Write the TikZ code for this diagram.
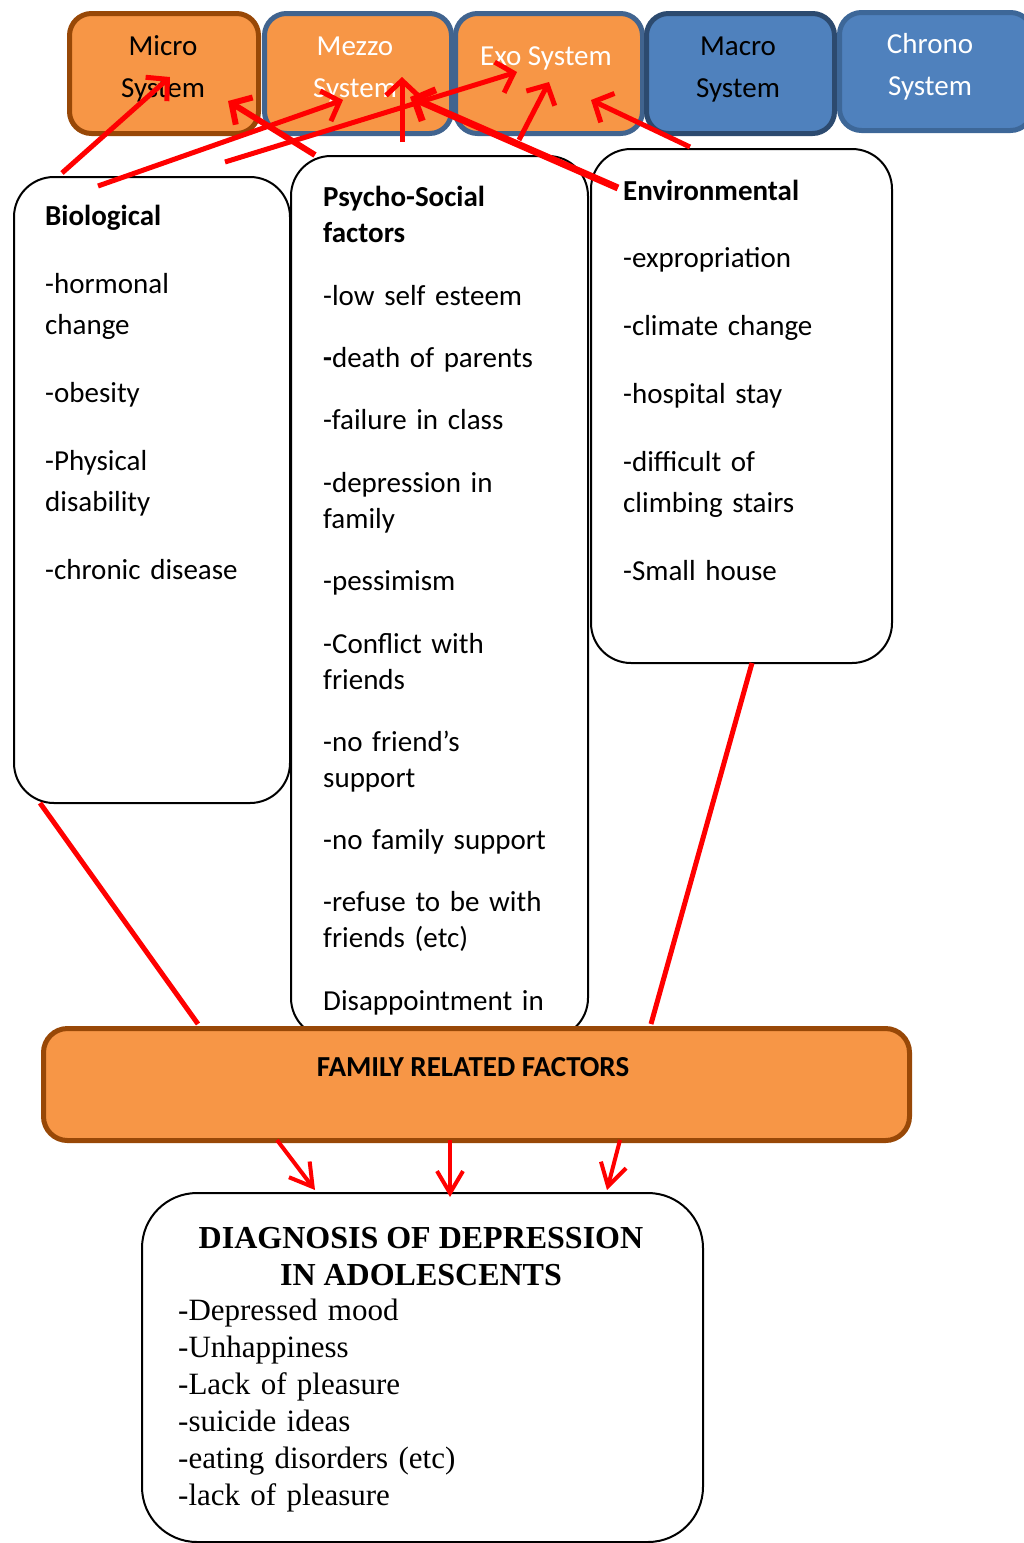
\documentclass[tikz,border=0pt]{standalone}
\usepackage{fontspec}
\setmainfont{Carlito}
\newfontfamily\tnr{Liberation Serif}
\usetikzlibrary{arrows.meta}
\definecolor{orangeF}{HTML}{F79646}
\definecolor{brownB}{HTML}{984807}
\definecolor{blueF}{HTML}{4F81BD}
\definecolor{blueB}{HTML}{41648F}
\definecolor{blueBD}{HTML}{2C4A6F}
\definecolor{blueBL}{HTML}{3D6798}
\definecolor{redL}{HTML}{FF0000}
\begin{document}
\begin{tikzpicture}[x=1pt,y=-1pt,
  sysbox/.style={draw, line width=5pt, rounded corners=22pt, anchor=north west, inner sep=0pt},
  txtbox/.style={draw=black, line width=2pt, fill=white, rounded corners=40pt, anchor=north west, inner sep=0pt},
  systext/.style={anchor=base, inner sep=0pt, align=center, font=\fontsize{29}{42}\selectfont},
  bodyA/.style={anchor=base west, inner sep=0pt, align=left, text width=#1, font=\fontsize{29}{41}\selectfont},
  bodyB/.style={anchor=base west, inner sep=0pt, align=left, text width=#1, font=\fontsize{29}{36}\selectfont},
  redarr/.style={draw=redL, line width=5pt, -{Straight Barb[length=15pt,width=32pt]}},
  redarrT/.style={draw=redL, line width=7pt, -{Straight Barb[length=16pt,width=34pt]}},
  redline/.style={draw=redL, line width=5pt},
  redarrB/.style={draw=redL, line width=4pt, -{Straight Barb[length=22pt,width=26pt]}}
]
\useasboundingbox (0,0) rectangle (1024,1543);
\clip (0,0) rectangle (1024,1543);

% text boxes
\node[txtbox, minimum width=276pt, minimum height=626pt] (bio) at (13,176) {};
\node[txtbox, minimum width=297pt, minimum height=882pt] (psy) at (290,155) {};
\node[txtbox, minimum width=301pt, minimum height=514pt] (env) at (590,148) {};

\node[bodyA=235pt] (bioT) at (45,225) {\textbf{Biological}\\[27pt]
-hormonal\\ change\\[27pt] -obesity\\[27pt] -Physical\\ disability\\[27pt] -chronic disease};

\node[bodyB=258pt] (psyT) at (323,206) {\textbf{Psycho-Social}\\ \textbf{factors}\\[27pt]
-low self esteem\\[26pt] \textbf{-}death of parents\\[26pt] -failure in class\\[27pt]
-depression in\\ family\\[26pt] -pessimism\\[27pt] -Conflict with\\ friends\\[26pt]
-no friend’s\\ support\\[26pt] -no family support\\[26pt] -refuse to be with\\ friends (etc)\\[27pt]
Disappointment in};

\node[bodyA=260pt] (envT) at (623,200) {\textbf{Environmental}\\[26pt]
-expropriation\\[27pt] -climate change\\[27pt] -hospital stay\\[27pt] -difficult of\\ climbing stairs\\[27pt] -Small house};

% family box
\node[draw=brownB, fill=orangeF, line width=5pt, rounded corners=24pt, anchor=north west, inner sep=0pt,
      minimum width=866pt, minimum height=112pt] (fam) at (41,1026) {};
\node[anchor=base, inner sep=0pt, font=\bfseries\fontsize{29}{34}\selectfont] (famT) at (473,1076) {FAMILY RELATED FACTORS};

% diagnosis box
\node[draw=black, line width=2pt, fill=white, rounded corners=55pt, anchor=north west, inner sep=0pt,
      minimum width=561pt, minimum height=349pt] (dia) at (141,1192) {};
\node[anchor=base, inner sep=0pt, align=center, font=\tnr\bfseries\fontsize{32}{37}\selectfont] (diaH) at (421,1285)
  {DIAGNOSIS OF DEPRESSION\\ IN ADOLESCENTS};
\node[anchor=base west, inner sep=0pt, align=left, text width=400pt, font=\tnr\fontsize{31}{37}\selectfont] (diaT) at (178,1320)
  {-Depressed mood\\ -Unhappiness\\ -Lack of pleasure\\ -suicide ideas\\ -eating disorders (etc)\\ -lack of pleasure};

% system boxes
\node[sysbox, draw=brownB, fill=orangeF, minimum width=189pt, minimum height=120pt] (micro) at (67,11) {};
\node[sysbox, draw=blueB, fill=orangeF, minimum width=187pt, minimum height=120pt] (mezzo) at (262,11) {};
\node[sysbox, draw=blueB, fill=orangeF, minimum width=187pt, minimum height=120pt] (exo) at (453,11) {};
\node[sysbox, draw=blueBD, fill=blueF, minimum width=188pt, minimum height=120pt] (macro) at (644,11) {};
\node[sysbox, draw=blueBL, fill=blueF, minimum width=193pt, minimum height=118pt] (chrono) at (837,10) {};

\node[systext] (microT) at (163,97) {Micro\\ System};
\node[systext, text=white] (mezzoT) at (355,97) {Mezzo\\ System};
\node[systext, text=white] (exoT) at (546,65) {Exo System};
\node[systext] (macroT) at (738,97) {Macro\\ System};
\node[systext, text=white] (chronoT) at (930,95) {Chrono\\ System};

% connector end points
\coordinate (b1) at (62,173);   \coordinate (m1) at (170,77);
\coordinate (b2) at (98,186);   \coordinate (z1) at (343,100);
\coordinate (p1) at (315,155);  \coordinate (m2) at (228,101);
\coordinate (p2) at (225,162);  \coordinate (x1) at (517,72);
\coordinate (p3) at (402,142);  \coordinate (z2) at (402,77);
\coordinate (e1) at (618,188);  \coordinate (z3) at (410,97);
\coordinate (p4) at (519,140);  \coordinate (x2) at (549,82);
\coordinate (e2) at (690,147);  \coordinate (x3) at (591,100);
\coordinate (bb) at (40,803);   \coordinate (f1) at (198,1024);
\coordinate (eb) at (752,663);  \coordinate (f2) at (651,1024);
\coordinate (f3) at (277,1140); \coordinate (d1) at (315,1190);
\coordinate (f4) at (450,1140); \coordinate (d2) at (450,1197);
\coordinate (f5) at (620,1140); \coordinate (d3) at (607,1190);

% red connectors
\draw[redarr] (b1) -- (m1);
\draw[redarr] (b2) -- (z1);
\draw[redarr, line width=6pt] (p1) -- (m2);
\draw[redarr] (p2) -- (x1);
\draw[redarr] (p3) -- (z2);
\draw[redarrT] (e1) -- (z3);
\draw[redarr] (p4) -- (x2);
\draw[redarr] (e2) -- (x3);
\draw[redline] (bb) -- (f1);
\draw[redline] (eb) -- (f2);
\draw[redarrB] (f3) -- (d1);
\draw[redarrB] (f4) -- (d2);
\draw[redarrB] (f5) -- (d3);
\end{tikzpicture}
\end{document}
